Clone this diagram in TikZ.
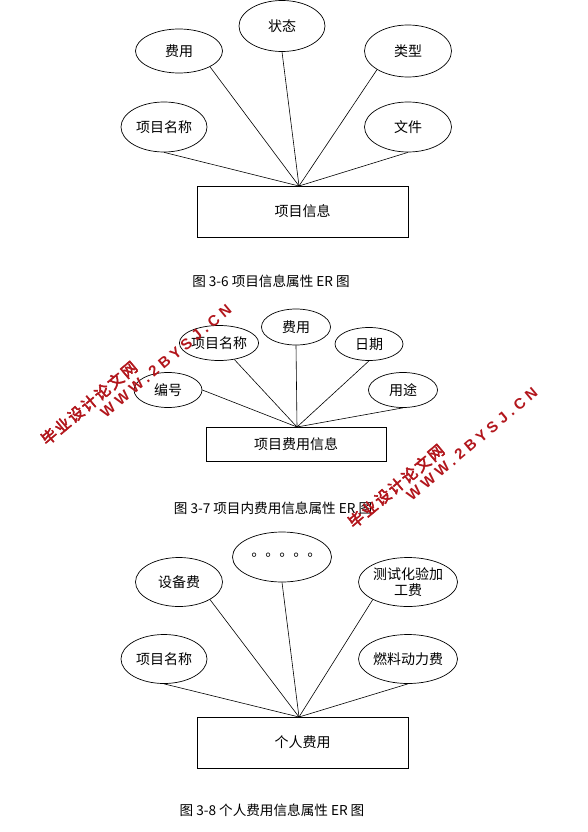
\documentclass[tikz,border=0pt]{standalone}
\usepackage{fontspec}
\usetikzlibrary{shapes.geometric}
\setmainfont{Noto Sans CJK SC}
\newfontfamily\cjktc{Noto Sans CJK TC}
\newfontfamily\wmcjk{Noto Sans CJK SC}[FakeBold=3.5,LetterSpace=12]
\newfontfamily\wmlat{Liberation Sans}[LetterSpace=28]
\definecolor{wmred}{RGB}{178,22,28}
\begin{document}
\begin{tikzpicture}[x=1pt,y=-1pt,
  attr/.style={draw,ellipse,inner sep=0pt,line width=0.7pt,font=\fontsize{14}{16}\selectfont},
  ent/.style={draw,rectangle,inner sep=0pt,line width=0.8pt,font=\fontsize{14}{16}\selectfont},
  link/.style={line width=0.6pt},
  figcap/.style={font=\fontsize{13.6}{15}\selectfont},
  wm/.style={text=wmred,rotate=40,inner sep=0pt}]
\useasboundingbox (0,0) rectangle (588,832);
% ---------- Figure 3-6 ----------
\node[ent,minimum width=211pt,minimum height=51pt] (e1) at (302.5,211.5) {项目信息};
\coordinate (c1) at (299,186);
\node[attr,minimum width=86pt,minimum height=50pt] (a1n) at (164,127) {项目名称};
\node[attr,minimum width=87pt,minimum height=44pt] (a1f) at (179,51) {费用};
\node[attr,minimum width=86pt,minimum height=51pt] (a1s) at (282,26) {状态};
\node[attr,minimum width=87pt,minimum height=52pt] (a1t) at (408,51) {类型};
\node[attr,minimum width=87pt,minimum height=50pt] (a1w) at (408,127) {文件};
\draw[link] (a1n.south) -- (c1);
\draw[link] (a1f.south east) -- (c1);
\draw[link] (a1s.south) -- (c1);
\draw[link] (a1t.south west) -- (c1);
\draw[link] (a1w.south) -- (c1);
\node[figcap] (cap1) at (271,281) {图 3-6 项目信息属性 ER 图};
% ---------- Figure 3-7 ----------
\node[ent,minimum width=180pt,minimum height=34pt] (e2) at (296,444) {项目费用信息};
\coordinate (c2) at (297,427);
\node[attr,minimum width=68pt,minimum height=35pt] (a2b) at (168,390) {编号};
\node[attr,minimum width=68pt,minimum height=35pt] (a2n) at (219,343) {项目名称};
\node[attr,minimum width=69pt,minimum height=36pt] (a2f) at (296,327) {费用};
\node[attr,minimum width=68pt,minimum height=33pt] (a2d) at (369,344) {日期};
\node[attr,minimum width=69pt,minimum height=35pt] (a2y) at (403,390) {用途};
\draw[link] (a2b.east) -- (c2);
\draw[link] (a2n) -- (c2);
\draw[link] (a2f.south) -- (c2);
\draw[link] (a2d.south) -- (c2);
\draw[link] (a2y.south) -- (c2);
\node[figcap] (cap2) at (273,508) {图 3-7 项目内费用信息属性 ER 图};
% ---------- Figure 3-8 ----------
\node[ent,minimum width=211pt,minimum height=51pt] (e3) at (302.5,742.5) {个人费用};
\coordinate (c3) at (299,717);
\node[attr,minimum width=86pt,minimum height=49pt] (a3n) at (164,659) {项目名称};
\node[attr,minimum width=87pt,minimum height=49pt] (a3s) at (179,582) {设备费};
\node[attr,minimum width=86pt,minimum height=50pt] (a3d) at (282,557) {\cjktc 。。。。。};
\node[attr,minimum width=87pt,minimum height=49pt,align=center] (a3c) at (408,582) {测试化验加\\工费};
\node[attr,minimum width=87pt,minimum height=49pt] (a3r) at (408,659) {燃料动力费};
\draw[link] (a3n.south) -- (c3);
\draw[link] (a3s.south east) -- (c3);
\draw[link] (a3d.south) -- (c3);
\draw[link] (a3c.south west) -- (c3);
\draw[link] (a3r.south) -- (c3);
\node[figcap] (cap3) at (272,810) {图 3-8 个人费用信息属性 ER 图};
% ---------- watermarks ----------
\node[wm,font=\wmcjk\fontsize{15.5}{15.5}\selectfont] (w1a) at (89,403) {毕业设计论文网};
\node[wm,font=\wmlat\bfseries\fontsize{15}{15}\selectfont] (w1b) at (166,361) {WWW.2BYSJ.CN};
\node[wm,font=\wmcjk\fontsize{15.5}{15.5}\selectfont] (w2a) at (396,486) {毕业设计论文网};
\node[wm,font=\wmlat\bfseries\fontsize{15}{15}\selectfont] (w2b) at (472,444) {WWW.2BYSJ.CN};
\end{tikzpicture}
\end{document}
